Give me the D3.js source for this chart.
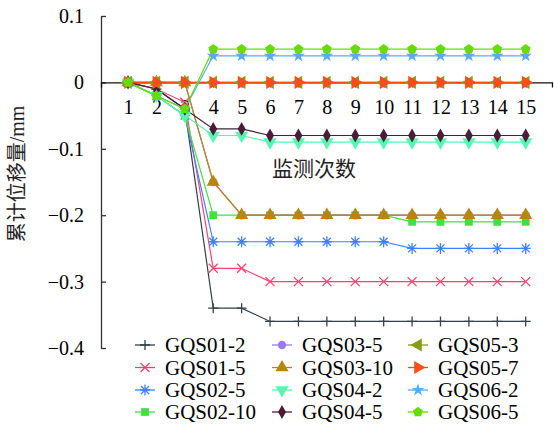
<!DOCTYPE html>
<html>
<head>
<meta charset="utf-8">
<script src="https://d3js.org/d3.v7.min.js"></script>
<style>
  body { margin: 0; background: #fff; }
</style>
</head>
<body>
<svg id="chart" width="554" height="428"></svg>
<script>
const SERIF = "'Liberation Serif', 'DejaVu Serif', 'Times New Roman', serif"
const CJK = "'Liberation Serif', 'Noto Sans CJK SC', serif"

// monitoring rounds
const rounds = [1, 2, 3, 4, 5, 6, 7, 8, 9, 10, 11, 12, 13, 14, 15]
const yTicks = [0.1, 0, -0.1, -0.2, -0.3, -0.4]

const names = ["GQS01-2", "GQS01-5", "GQS02-5", "GQS02-10", "GQS03-5", "GQS03-10",
               "GQS04-2", "GQS04-5", "GQS05-3", "GQS05-7", "GQS06-2", "GQS06-5"]

// cumulative displacement (mm)
const gqs01_2  = [0, -0.01, -0.04, -0.34, -0.34, -0.36, -0.36, -0.36, -0.36, -0.36, -0.36, -0.36, -0.36, -0.36, -0.36]
const gqs01_5  = [0, -0.01, -0.03, -0.28, -0.28, -0.30, -0.30, -0.30, -0.30, -0.30, -0.30, -0.30, -0.30, -0.30, -0.30]
const gqs02_5  = [0, -0.02, -0.05, -0.24, -0.24, -0.24, -0.24, -0.24, -0.24, -0.24, -0.25, -0.25, -0.25, -0.25, -0.25]
const gqs02_10 = [0, -0.02, -0.05, -0.20, -0.20, -0.20, -0.20, -0.20, -0.20, -0.20, -0.21, -0.21, -0.21, -0.21, -0.21]
const gqs03_5  = [0, 0, 0, -0.15, -0.20, -0.20, -0.20, -0.20, -0.20, -0.20, -0.20, -0.20, -0.20, -0.20, -0.20]
const gqs03_10 = [0, 0, 0, -0.15, -0.20, -0.20, -0.20, -0.20, -0.20, -0.20, -0.20, -0.20, -0.20, -0.20, -0.20]
const gqs04_2  = [0, -0.02, -0.05, -0.08, -0.08, -0.09, -0.09, -0.09, -0.09, -0.09, -0.09, -0.09, -0.09, -0.09, -0.09]
const gqs04_5  = [0, -0.01, -0.04, -0.07, -0.07, -0.08, -0.08, -0.08, -0.08, -0.08, -0.08, -0.08, -0.08, -0.08, -0.08]
const gqs05_3  = [0, 0, 0, 0, 0, 0, 0, 0, 0, 0, 0, 0, 0, 0, 0]
const gqs05_7  = [0, 0, 0, 0, 0, 0, 0, 0, 0, 0, 0, 0, 0, 0, 0]
const gqs06_2  = [0, -0.02, -0.04, 0.04, 0.04, 0.04, 0.04, 0.04, 0.04, 0.04, 0.04, 0.04, 0.04, 0.04, 0.04]
const gqs06_5  = [0, -0.02, -0.04, 0.05, 0.05, 0.05, 0.05, 0.05, 0.05, 0.05, 0.05, 0.05, 0.05, 0.05, 0.05]

const values = [gqs01_2, gqs01_5, gqs02_5, gqs02_10, gqs03_5, gqs03_10,
                gqs04_2, gqs04_5, gqs05_3, gqs05_7, gqs06_2, gqs06_5]

const colors = ["#34404a", "#ff4070", "#3f80ff", "#40e040", "#9a7af0", "#b8860b",
                "#55f8b0", "#4b1c38", "#8c9a1a", "#ff4c1a", "#5aaaf0", "#66dd00"]
const shapes = ["plus", "cross", "asterisk", "square", "circle", "triUp",
                "triDown", "diamond", "triLeft", "triRight", "star", "pentagon"]

const svg = d3.select("#chart")

const x = d3.scaleLinear().domain([1, 15]).range([128, 525.7])
const y = d3.scaleLinear().domain([-0.4, 0.1]).range([348, 16])

function markerPath(shape) {
    const sym = (t, s) => d3.symbol(t, s)()
    switch (shape) {
        case "plus": return "M-5,0H5M0,-5V5"
        case "cross": return "M-4.5,-4.5L4.5,4.5M-4.5,4.5L4.5,-4.5"
        case "asterisk": return "M-5,0H5M0,-5.5V5.5M-4,-4L4,4M-4,4L4,-4"
        case "square": return sym(d3.symbolSquare, 60)
        case "circle": return sym(d3.symbolCircle, 55)
        case "triUp": case "triDown": case "triLeft": case "triRight":
            return sym(d3.symbolTriangle, 75)
        case "diamond": return sym(d3.symbolDiamond, 55)
        case "star": return sym(d3.symbolStar, 50)
        case "pentagon": {
            const r = 5.2
            const pts = d3.range(5).map(i => {
                const a = -Math.PI / 2 + i * 2 * Math.PI / 5
                return [r * Math.cos(a), r * Math.sin(a)]
            })
            return "M" + pts.map(p => p.join(",")).join("L") + "Z"
        }
    }
}
const rot = { triDown: 180, triLeft: -90, triRight: 90 }
const stroked = s => s === "plus" || s === "cross" || s === "asterisk"

function drawMarker(g, shape, color, cx, cy) {
    const p = g.append("path")
        .attr("d", markerPath(shape))
        .attr("transform", `translate(${cx},${cy}) rotate(${rot[shape] || 0})`)
    if (stroked(shape)) p.attr("fill", "none").attr("stroke", color).attr("stroke-width", 1.3)
    else p.attr("fill", color)
}

// y axis
const yAxis = d3.axisLeft(y)
    .tickValues(yTicks)
    .tickSize(-5)
    .tickSizeOuter(0)
    .tickPadding(17)
    .tickFormat(d => d === 0 ? "0" : d3.format(".1f")(d))
const gy = svg.append("g").attr("transform", "translate(101,0)").call(yAxis)
gy.attr("font-family", SERIF)
gy.selectAll("text").attr("font-size", 20).attr("fill", "#000")
gy.selectAll("line, path").attr("stroke", "#333").attr("stroke-width", 1.3)

// x axis at y = 0
const xAxisScale = x.copy().domain([x.invert(101), x.invert(552)]).range([101, 552])
const xAxis = d3.axisBottom(xAxisScale)
    .tickValues(rounds)
    .tickSize(5)
    .tickSizeOuter(5)
    .tickPadding(12)
const gx = svg.append("g").attr("transform", `translate(0,${y(0)})`).call(xAxis)
gx.attr("font-family", SERIF)
gx.selectAll("text").attr("font-size", 20).attr("fill", "#000")
gx.selectAll("line, path").attr("stroke", "#111").attr("stroke-width", 1.3)

// axis titles
svg.append("text")
    .attr("transform", "translate(24,174) rotate(-90)")
    .attr("text-anchor", "middle")
    .attr("font-family", CJK)
    .attr("font-size", 20)
    .attr("fill", "#222")
    .text("累计位移量/mm")
svg.append("text")
    .attr("x", 314).attr("y", 176)
    .attr("text-anchor", "middle")
    .attr("font-family", CJK)
    .attr("font-size", 21)
    .attr("fill", "#222")
    .text("监测次数")

// series
const line = d3.line().x((d, i) => x(rounds[i])).y(d => y(d))
const plot = svg.append("g")
values.forEach((vals, k) => {
    plot.append("path")
        .datum(vals)
        .attr("d", line)
        .attr("fill", "none")
        .attr("stroke", colors[k])
        .attr("stroke-width", 1.2)
})
values.forEach((vals, k) => {
    const gm = plot.append("g")
    vals.forEach((v, i) => drawMarker(gm, shapes[k], colors[k], x(rounds[i]), y(v)))
})

// legend
const legCols = [135, 272, 408]
const legRows = [345, 367.5, 390, 412]
const leg = svg.append("g").attr("font-family", SERIF)
names.forEach((n, k) => {
    const col = Math.floor(k / 4), row = k % 4
    const lx = legCols[col], ly = legRows[row]
    leg.append("line")
        .attr("x1", lx).attr("x2", lx + 20)
        .attr("y1", ly).attr("y2", ly)
        .attr("stroke", colors[k]).attr("stroke-width", 1.3)
    drawMarker(leg, shapes[k], colors[k], lx + 10, ly)
    leg.append("text")
        .attr("x", lx + 30).attr("y", ly)
        .attr("dy", "0.35em")
        .attr("font-size", 21)
        .attr("fill", "#000")
        .text(n)
})
</script>
</body>
</html>
